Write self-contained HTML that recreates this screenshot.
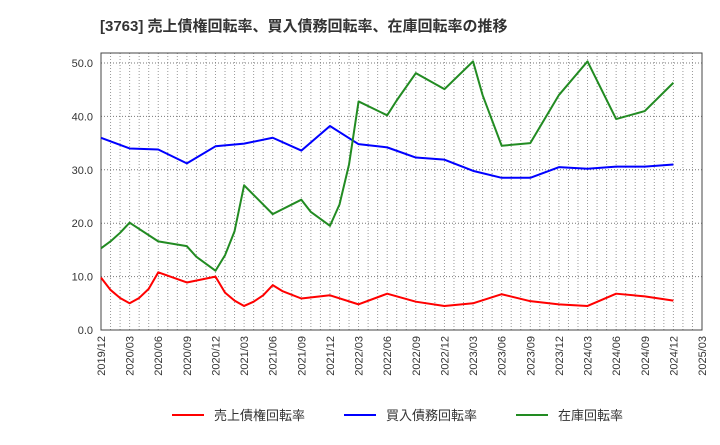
<!DOCTYPE html>
<html><head><meta charset="utf-8"><style>
body{margin:0;background:#fff;}
svg text{font-family:"Liberation Sans","Noto Sans CJK JP",sans-serif;}
</style></head><body>
<svg id="c" width="720" height="440" xmlns="http://www.w3.org/2000/svg">
<text x="100" y="31" font-size="15" font-weight="bold" fill="#333">[3763]  売上債権回転率、買入債務回転率、在庫回転率の推移</text>
<g id="grid"></g><g id="axes"></g><g id="series"></g><g id="legend"></g>
</svg>
<script>
const xLabels=["2019/12","2020/03","2020/06","2020/09","2020/12","2021/03","2021/06","2021/09","2021/12","2022/03","2022/06","2022/09","2022/12","2023/03","2023/06","2023/09","2023/12","2024/03","2024/06","2024/09","2024/12","2025/03"];
const yTicks=[0,10,20,30,40,50];
const redIdx=[0,1,2,3,4,5,6,9,12,13,14,15,16,17,18,19,21,24,27,30,33,36,39,42,45,48,51,54,57,60];
const redVal=[9.8,7.5,6.0,5.0,6.0,7.7,10.8,8.9,10.0,7.0,5.5,4.5,5.3,6.5,8.4,7.3,5.9,6.5,4.8,6.8,5.3,4.5,5.0,6.7,5.4,4.8,4.5,6.8,6.3,5.5];
const blueIdx=[0,3,6,9,12,15,18,21,24,27,30,33,36,39,42,45,48,51,54,57,60];
const blueVal=[36.0,34.0,33.8,31.2,34.4,34.9,36.0,33.6,38.2,34.8,34.2,32.3,31.9,29.8,28.5,28.5,30.5,30.2,30.6,30.6,31.0];
const greenIdx=[0,1,2,3,6,9,10,12,13,14,15,18,21,22,24,25,26,27,30,31,33,36,39,40,42,45,48,51,54,57,60];
const greenVal=[15.3,16.6,18.2,20.1,16.6,15.7,13.7,11.1,14.0,18.5,27.1,21.7,24.4,22.1,19.5,23.5,31.0,42.8,40.2,43.0,48.1,45.1,50.3,44.0,34.5,35.0,44.0,50.3,39.5,41.0,46.3];
const L=101,R=702,T=53,B=330,NM=63;
const xs=i=>L+(R-L)*i/NM;
const ys=v=>B-(B-63)*v/50;
const NS="http://www.w3.org/2000/svg";
function mk(tag,attrs,parent){const e=document.createElementNS(NS,tag);for(const k in attrs)e.setAttribute(k,attrs[k]);parent.appendChild(e);return e;}
const grid=document.getElementById('grid'),axes=document.getElementById('axes'),series=document.getElementById('series'),legend=document.getElementById('legend');
for(let m=1;m<NM;m++){const g=mk('line',{x1:xs(m),x2:xs(m),y1:T,y2:B,stroke:'#999','stroke-width':1,'stroke-dasharray':'1,2'},grid);

}
yTicks.forEach(v=>{const g=mk('line',{x1:L,x2:R,y1:ys(v),y2:ys(v),stroke:'#777','stroke-width':1,'stroke-dasharray':'1,2'},grid);


const t=mk('text',{x:L-8,y:ys(v)+4,'text-anchor':'end','font-size':11,fill:'#333'},axes);t.textContent=v.toFixed(1);

});
const fr=mk('rect',{x:L,y:T,width:R-L,height:B-T,fill:'none',stroke:'#444','stroke-width':1},axes);


xLabels.forEach((s,i)=>{const x=xs(i*3);const t=mk('text',{x:x+4,y:B+6,'text-anchor':'end','font-size':11,fill:'#333',transform:`rotate(-90 ${x+4} ${B+6})`},axes);t.textContent=s;

});
function line(idx,val,color,name){const p=mk('polyline',{points:idx.map((m,k)=>xs(m)+','+ys(val[k])).join(' '),fill:'none',stroke:color,'stroke-width':2,'stroke-linejoin':'round'},series);

}
line(redIdx,redVal,'#ff0000','receivables-turnover-line');
line(blueIdx,blueVal,'#0000ff','payables-turnover-line');
line(greenIdx,greenVal,'#228b22','inventory-turnover-line');
const leg=[['売上債権回転率','#ff0000',172],['買入債務回転率','#0000ff',344],['在庫回転率','#228b22',516]];
leg.forEach(([s,c,x])=>{const g=mk('g',{},legend);


mk('line',{x1:x,x2:x+32,y1:415,y2:415,stroke:c,'stroke-width':2},g);
const t=mk('text',{x:x+42,y:420,'font-size':13,fill:'#333'},g);t.textContent=s;});
</script>
</body></html>
